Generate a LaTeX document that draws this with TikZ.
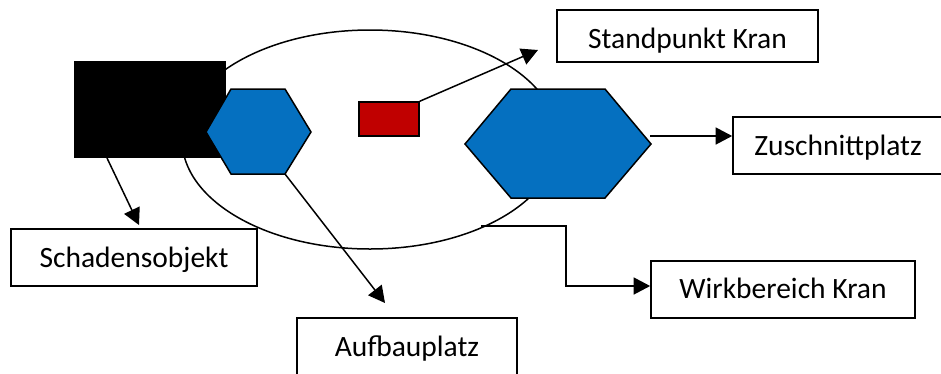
\documentclass[tikz,border=0pt]{standalone}
\usepackage{fontspec}
\setmainfont{Carlito}
\usetikzlibrary{arrows.meta,shapes.geometric}
\definecolor{hexblue}{RGB}{5,112,192}
\definecolor{kranred}{RGB}{192,0,0}
\tikzset{
  labelbox/.style={draw=black,line width=1.7pt,fill=white,inner sep=0pt,font=\fontsize{29.5}{34}\selectfont,anchor=center,text height=19pt,text depth=0pt},
  shapeline/.style={draw=black,line width=1.5pt,line join=miter},
  pointer/.style={draw=black,line width=1.5pt,-{Triangle[length=16.5pt,width=17pt]}},
}
\begin{document}
\begin{tikzpicture}[x=1pt,y=-1pt]
\useasboundingbox[fill=white] (0,0) rectangle (941,373);
\clip (0,0) rectangle (941,373);
% named points
\coordinate (h1a) at (206,132); \coordinate (h1b) at (231,89); \coordinate (h1c) at (285,89);
\coordinate (h1d) at (311,132); \coordinate (h1e) at (285,174); \coordinate (h1f) at (231,174);
\coordinate (h2a) at (465,144); \coordinate (h2b) at (511,89); \coordinate (h2c) at (605,89);
\coordinate (h2d) at (651,144); \coordinate (h2e) at (605,198); \coordinate (h2f) at (511,198);
% ellipse
\node[shapeline,draw,ellipse,minimum width=376pt,minimum height=219pt,inner sep=0pt] (bereich) at (370,139.5) {};
% shapes
\node[fill=black,minimum width=152pt,minimum height=97pt,inner sep=0pt] (objekt) at (150,109.5) {};
\draw[shapeline,fill=hexblue] (h1a)--(h1b)--(h1c)--(h1d)--(h1e)--(h1f)--cycle;
\draw[shapeline,fill=hexblue] (h2a)--(h2b)--(h2c)--(h2d)--(h2e)--(h2f)--cycle;
\node[shapeline,fill=kranred,minimum width=60pt,minimum height=34pt,inner sep=0pt] (kran) at (389,119) {};
% label boxes
\node[labelbox,minimum width=246pt,minimum height=57pt] (schaden) at (134,257.5) {Schadensobjekt};
\node[labelbox,minimum width=220pt,minimum height=58pt,text height=18pt] (aufbau) at (407,347) {Aufbauplatz};
\node[labelbox,minimum width=261pt,minimum height=52pt,text height=24pt] (stand) at (687.5,36) {Standpunkt Kran};
\node[labelbox,minimum width=210pt,minimum height=57pt] (zuschnitt) at (838,145.5) {Zuschnittplatz};
\node[labelbox,minimum width=264pt,minimum height=57pt,text height=17pt] (wirk) at (783,289.5) {Wirkbereich Kran};
% connector ends
\coordinate (schadenEnd) at (139,225);
\coordinate (aufbauEnd) at (385,303);
\coordinate (standEnd) at (538,50);
\coordinate (objektStart) at (107,158);
\coordinate (zuStart) at (650,136);
\coordinate (wirkStart) at (481,226);
\coordinate (wirkA) at (566,226);
\coordinate (wirkB) at (566,286);
% connectors
\draw[pointer] (objektStart) -- (schadenEnd);
\draw[pointer] (h1e) -- (aufbauEnd);
\draw[pointer] (kran.north east) -- (standEnd);
\draw[pointer] (zuStart) -- (zuStart -| zuschnitt.west);
\draw[pointer] (wirkStart) -- (wirkA) -- (wirkB) -- (wirkB -| wirk.west);
\end{tikzpicture}
\end{document}
